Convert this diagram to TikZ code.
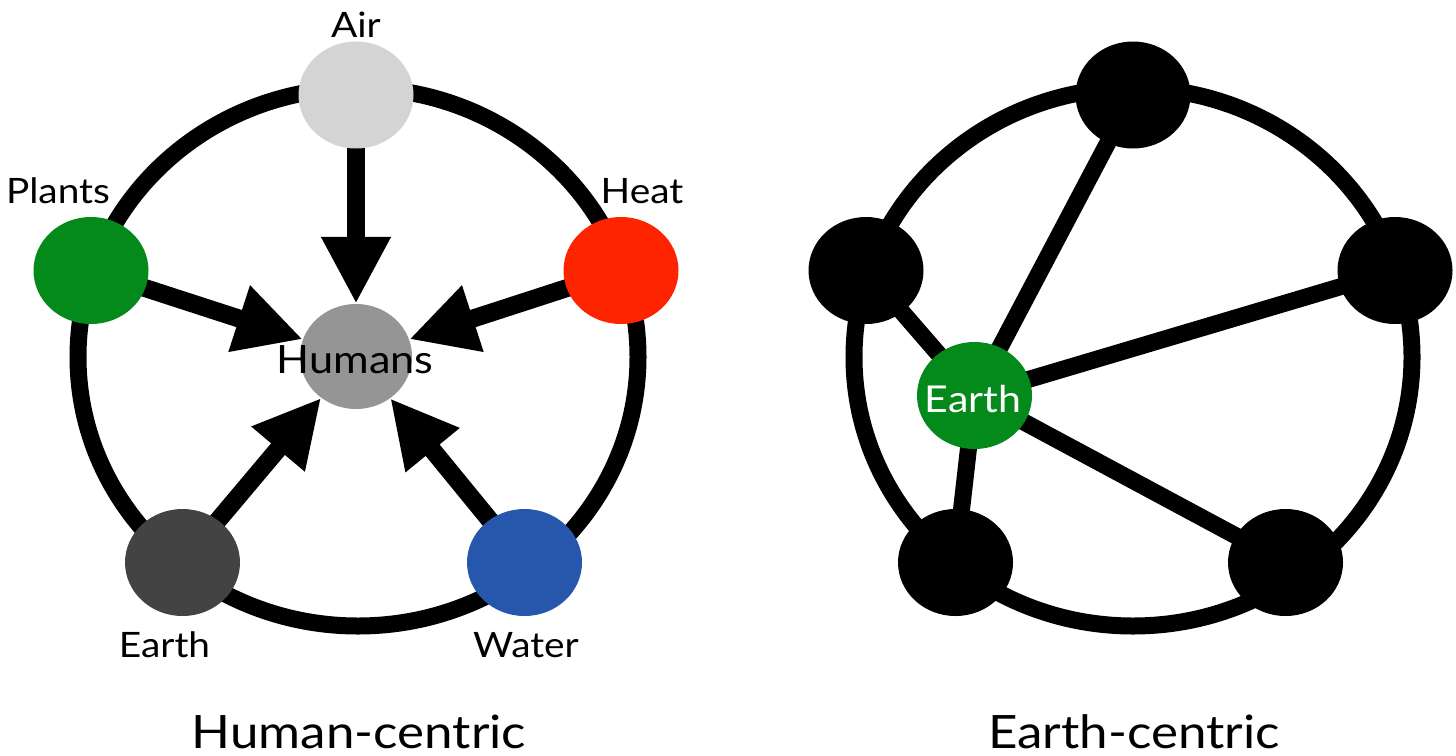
\documentclass[tikz,border=0pt]{standalone}
\usepackage{fontspec}
\setmainfont{Lato}[FakeStretch=1.11]
\usetikzlibrary{shapes.geometric,arrows.meta,backgrounds}
\definecolor{cgreen}{RGB}{3,138,26}
\definecolor{cred}{RGB}{255,36,0}
\definecolor{cblue}{RGB}{39,86,173}
\definecolor{cair}{RGB}{212,212,212}
\definecolor{chum}{RGB}{149,149,149}
\definecolor{cearth}{RGB}{67,67,67}
\tikzset{
  blob/.style={ellipse,inner sep=0pt,minimum width=115pt,minimum height=107pt,draw=none},
  ring/.style={line width=17pt,draw=black},
  arr/.style={line width=18pt,-{Triangle[width=65pt,length=67pt]},shorten <=-8pt},
  link/.style={line width=17pt,shorten <=-8pt,shorten >=-8pt},
  lbl/.style={font=\fontsize{35}{40}\selectfont,anchor=base,inner sep=0pt},
  title/.style={font=\fontsize{46}{52}\selectfont,anchor=base,inner sep=0pt}
}
\begin{document}
\begin{tikzpicture}[x=1pt,y=-1pt]
\useasboundingbox (0,0) rectangle (1456,755);
% left diagram nodes
\node[blob,fill=cair] (air) at (356,95) {};
\node[blob,fill=cgreen] (plants) at (91,270.5) {};
\node[blob,fill=cred] (heat) at (621,270.5) {};
\node[blob,fill=chum,minimum width=112pt,minimum height=105pt] (humans) at (356,356.5) {};
\node[blob,fill=cearth] (earthl) at (182.5,562.5) {};
\node[blob,fill=cblue] (water) at (524.5,562.5) {};
\node[lbl] (airlbl) at (356,37) {Air};
\node[lbl] (plantslbl) at (58,203) {Plants};
\node[lbl] (heatlbl) at (642,203) {Heat};
\node[lbl] (earthllbl) at (164.5,657) {Earth};
\node[lbl] (waterlbl) at (526,657) {Water};
\node[lbl,font=\fontsize{39}{44}\selectfont] (humanslbl) at (355,373) {Humans};
\node[title] (t1) at (359,748) {Human-centric};
% right diagram nodes
\node[blob,fill=black] (top) at (1133,95) {};
\node[blob,fill=black] (left) at (866,270.5) {};
\node[blob,fill=black] (right) at (1395,270.5) {};
\node[blob,fill=black] (bl) at (955.5,562.5) {};
\node[blob,fill=black] (br) at (1285.5,562.5) {};
\node[blob,fill=cgreen] (green) at (974.5,395.5) {};
\node[lbl,text=white,font=\fontsize{37}{42}\selectfont] (greenlbl) at (973,412) {Earth};
\node[title] (t2) at (1134,748) {Earth-centric};
\begin{pgfonlayer}{background}
  \draw[ring] (358,357) ellipse [x radius=280pt, y radius=269pt];
  \draw[ring] (1133,357) ellipse [x radius=279pt, y radius=269pt];
  \draw[arr] (air) -- (humans);
  \draw[arr] (plants) -- (humans);
  \draw[arr] (heat) -- (humans);
  \draw[arr] (earthl) -- (humans);
  \draw[arr] (water) -- (humans);
  \draw[link] (green) -- (top);
  \draw[link] (green) -- (left);
  \draw[link] (green) -- (right);
  \draw[link] (green) -- (bl);
  \draw[link] (green) -- (br);
\end{pgfonlayer}
\end{tikzpicture}
\end{document}
